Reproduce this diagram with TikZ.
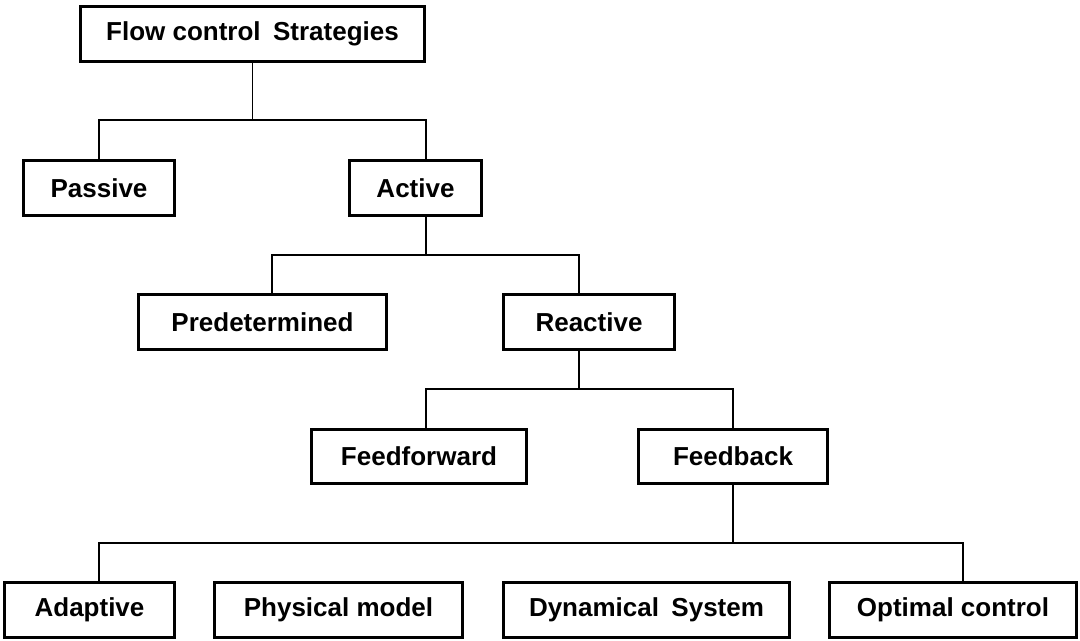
\documentclass[tikz,border=0pt]{standalone}
\usepackage{fontspec}
\setmainfont{Liberation Sans}
\usetikzlibrary{calc}
\begin{document}
\begin{tikzpicture}[x=0.75pt,y=-0.75pt,
  box/.style={draw=black,line width=2.6pt,inner sep=0pt,minimum height=41pt,
    font=\fontsize{19.5}{23}\selectfont\bfseries,align=center},
  conn/.style={draw=black,line width=1pt}]
\useasboundingbox (0,0) rectangle (1080,641);
% nodes
\node[box,minimum width=257.75pt] (top) at (252.5,34) {Flow control\hspace{0.2em} Strategies};
\node[box,minimum width=113pt] (passive) at (99,188) {Passive};
\node[box,minimum width=98.75pt] (active) at (415.5,188) {Active};
\node[box,minimum width=185.75pt] (predet) at (262.5,322) {Predetermined};
\node[box,minimum width=128pt] (reactive) at (589,322) {Reactive};
\node[box,minimum width=161pt,minimum height=40.25pt] (ffwd) at (419,456.5) {Feedforward};
\node[box,minimum width=141.5pt,minimum height=40.25pt] (fback) at (733,456.5) {Feedback};
\node[box,minimum width=127.25pt] (adapt) at (89.5,610) {Adaptive};
\node[box,minimum width=185.75pt] (phys) at (338.5,610) {Physical model};
\node[box,minimum width=214.25pt] (dyn) at (646.5,610) {Dynamical\hspace{0.2em} System};
\node[box,minimum width=185pt] (opt) at (953,610) {Optimal control};
% level 1
\coordinate (j1) at ($(top.south)+(0,57)$);
\draw[conn] (top.south) -- (j1);
\draw[conn] (passive.north) |- (j1) -| ($(active.north)+(10.5,0)$);
% level 2
\coordinate (j2) at ($(active.south)+(10.5,38)$);
\draw[conn] ($(active.south)+(10.5,0)$) -- (j2);
\draw[conn] ($(predet.north)+(9.5,0)$) |- (j2) -| ($(reactive.north)+(-10,0)$);
% level 3
\coordinate (j3) at ($(reactive.south)+(-10,38)$);
\draw[conn] ($(reactive.south)+(-10,0)$) -- (j3);
\draw[conn] ($(ffwd.north)+(7,0)$) |- (j3) -| (fback.north);
% level 4
\coordinate (j4) at ($(fback.south)+(0,58)$);
\draw[conn] (fback.south) -- (j4);
\draw[conn] ($(adapt.north)+(9.5,0)$) |- (j4) -| ($(opt.north)+(10,0)$);
\draw[conn] ($(phys.north)+(10.5,0)$) -- ($(phys.north)+(10.5,0)$ |- j4);
\draw[conn] ($(dyn.north)+(-9.5,0)$) -- ($(dyn.north)+(-9.5,0)$ |- j4);
\end{tikzpicture}
\end{document}
